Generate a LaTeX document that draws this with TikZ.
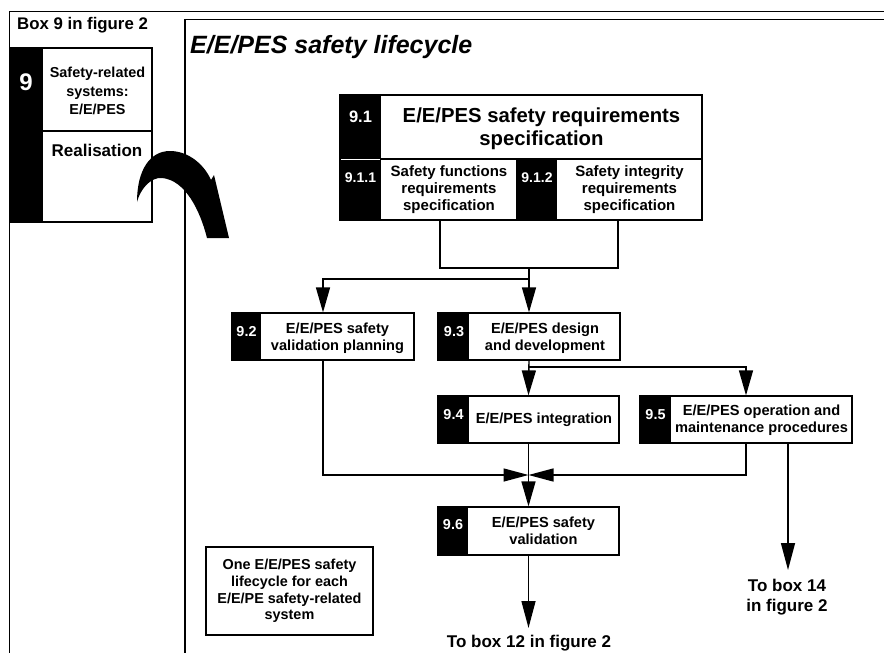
\documentclass[tikz,border=0pt]{standalone}
\usepackage{fontspec}
\setmainfont{Liberation Sans}
\usetikzlibrary{arrows.meta,calc}
\begin{document}
\begin{tikzpicture}[x=1pt,y=-1pt,
  box/.style={draw,line width=1.2pt,fill=white,inner sep=0pt,rectangle},
  strip/.style={fill=black,draw=black,line width=1.2pt},
  num/.style={text=white,font=\bfseries\fontsize{14.4}{17}\selectfont,inner sep=0pt},
  txt/.style={font=\bfseries\fontsize{14.6}{17}\selectfont,align=center,inner sep=0pt},
  conn/.style={line width=1.4pt},
  arr/.style={conn,-{Triangle[length=25pt,width=14pt]}},
]
\useasboundingbox (0,0) rectangle (884,653);
% frames
\draw[line width=1pt] (9.5,653) -- (9.5,11) -- (884,11);
\draw[line width=1.8pt] (185,653) -- (185,19.5) -- (884,19.5);
\node[font=\bfseries\fontsize{16.8}{19}\selectfont,anchor=west,inner sep=0pt] (hdr) at (17,25) {Box 9 in figure 2};
\node[font=\bfseries\itshape\fontsize{25}{28}\selectfont,anchor=west,inner sep=0pt] (ttl) at (190,47) {E/E/PES safety lifecycle};

% left box 9
\node[box,minimum width=141pt,minimum height=174pt] (b9) at (81.5,135) {};
\filldraw[strip] (b9.north west) rectangle ([xshift=32pt]b9.south west);
\draw[line width=1.2pt] ([xshift=32pt]b9.west |- 0,131) -- (b9.east |- 0,131);
\node[num,font=\bfseries\fontsize{24}{26}\selectfont] (n9) at (26,82) {9};
\node[txt,font=\bfseries\fontsize{14.4}{18.5}\selectfont] (t9a) at (97.5,91) {Safety-related\\systems:\\E/E/PES};
\node[txt,font=\bfseries\fontsize{17}{20}\selectfont] (t9b) at (97,150) {Realisation};

% curved arrow
\fill[black] (137,202) .. controls (137,170) and (150,151) .. (170,151)
  .. controls (188,151) and (204,164) .. (211,180)
  -- (214,175) -- (229,238) -- (207,238)
  .. controls (200,210) and (185,180) .. (162,178)
  .. controls (150,177) and (140,190) .. (137,202) -- cycle;

% 9.1
\node[box,minimum width=362pt,minimum height=64pt] (b91) at (521,127) {};
\filldraw[strip] (b91.north west) rectangle ([xshift=41pt]b91.south west);
\node[num,font=\bfseries\fontsize{16.5}{19}\selectfont] (n91) at (360.5,117) {9.1};
\node[txt,font=\bfseries\fontsize{20.3}{23}\selectfont] (t91) at (541.5,128.5) {E/E/PES safety requirements\\specification};

\node[box,minimum width=177pt,minimum height=61pt] (b911) at (428.5,189.5) {};
\filldraw[strip] (b911.north west) rectangle ([xshift=41pt]b911.south west);
\node[num,font=\bfseries\fontsize{14}{17}\selectfont] (n911) at (360.5,178) {9.1.1};
\node[txt,font=\bfseries\fontsize{15}{17}\selectfont] (t911) at (449,190) {Safety functions\\requirements\\specification};

\node[box,minimum width=185pt,minimum height=61pt] (b912) at (609.5,189.5) {};
\filldraw[strip] (b912.north west) rectangle ([xshift=40pt]b912.south west);
\node[num,font=\bfseries\fontsize{14}{17}\selectfont] (n912) at (537,178) {9.1.2};
\node[txt,font=\bfseries\fontsize{15}{17}\selectfont] (t912) at (629.5,190) {Safety integrity\\requirements\\specification};
\draw[white,line width=0.8pt] (341,159) -- (380,159);

% 9.2
\node[box,minimum width=182pt,minimum height=47pt] (b92) at (323,336.5) {};
\filldraw[strip] (b92.north west) rectangle ([xshift=29pt]b92.south west);
\node[num] (n92) at (246.5,332) {9.2};
\node[txt] (t92) at (337.5,338) {E/E/PES safety\\validation planning};

% 9.3
\node[box,minimum width=182pt,minimum height=47pt] (b93) at (529,336.5) {};
\filldraw[strip] (b93.north west) rectangle ([xshift=31pt]b93.south west);
\node[num] (n93) at (454,332) {9.3};
\node[txt] (t93) at (545,338) {E/E/PES design\\and development};

% 9.4
\node[box,minimum width=181pt,minimum height=47pt] (b94) at (528.5,419.5) {};
\filldraw[strip] (b94.north west) rectangle ([xshift=31pt]b94.south west);
\node[num] (n94) at (453.5,415) {9.4};
\node[txt] (t94) at (544,420) {E/E/PES integration};

% 9.5
\node[box,minimum width=212pt,minimum height=47pt] (b95) at (746,419.5) {};
\filldraw[strip] (b95.north west) rectangle ([xshift=31pt]b95.south west);
\node[num] (n95) at (655.5,415) {9.5};
\node[txt] (t95) at (761.5,420.5) {E/E/PES operation and\\maintenance procedures};

% 9.6
\node[box,minimum width=181pt,minimum height=48pt] (b96) at (528.5,531) {};
\filldraw[strip] (b96.north west) rectangle ([xshift=30pt]b96.south west);
\node[num] (n96) at (453,525) {9.6};
\node[txt] (t96) at (543.5,530.5) {E/E/PES safety\\validation};

% note
\node[box,minimum width=167pt,minimum height=88pt] (note) at (289.5,591) {};
\node[txt,font=\bfseries\fontsize{14.4}{16.7}\selectfont] (tnote) at (289.5,591) {One E/E/PES safety\\lifecycle for each\\E/E/PE safety-related\\system};

% outputs
\node[txt,font=\bfseries\fontsize{17}{20}\selectfont] (t12) at (529,643) {To box 12 in figure 2};
\node[txt,font=\bfseries\fontsize{17}{20}\selectfont] (t14) at (787,597) {To box 14\\in figure 2};

% connectors
\coordinate (j1) at (529,268);
\coordinate (j1b) at (529,279);
\coordinate (j2) at (528.7,367);
\coordinate (m) at (528.5,475);
\coordinate (a14) at (788,570);
\coordinate (a12) at (528.5,628);
\draw[conn] ([xshift=11.5pt]b911.south) |- (j1) -| ([xshift=8.5pt]b912.south);
\draw[arr] (j1) -- (b93.north);
\draw[arr] (j1b) -| (b92.north);
\draw[arr] (b93.south) -- (b94.north);
\draw[arr] (j2) -| (b95.north);
\draw[arr,-{Triangle[length=25pt,width=13pt]}] (b92.south) |- (m);
\draw[arr,-{Triangle[length=25pt,width=13pt]}] (b95.south) |- (m);
\draw[arr] (b94.south) -- (b96.north);
\draw[arr,-{Triangle[length=27pt,width=14pt]}] ([xshift=42pt]b95.south) -- (a14);
\draw[arr,-{Triangle[length=27pt,width=14pt]}] (b96.south) -- (a12);
\end{tikzpicture}
\end{document}
